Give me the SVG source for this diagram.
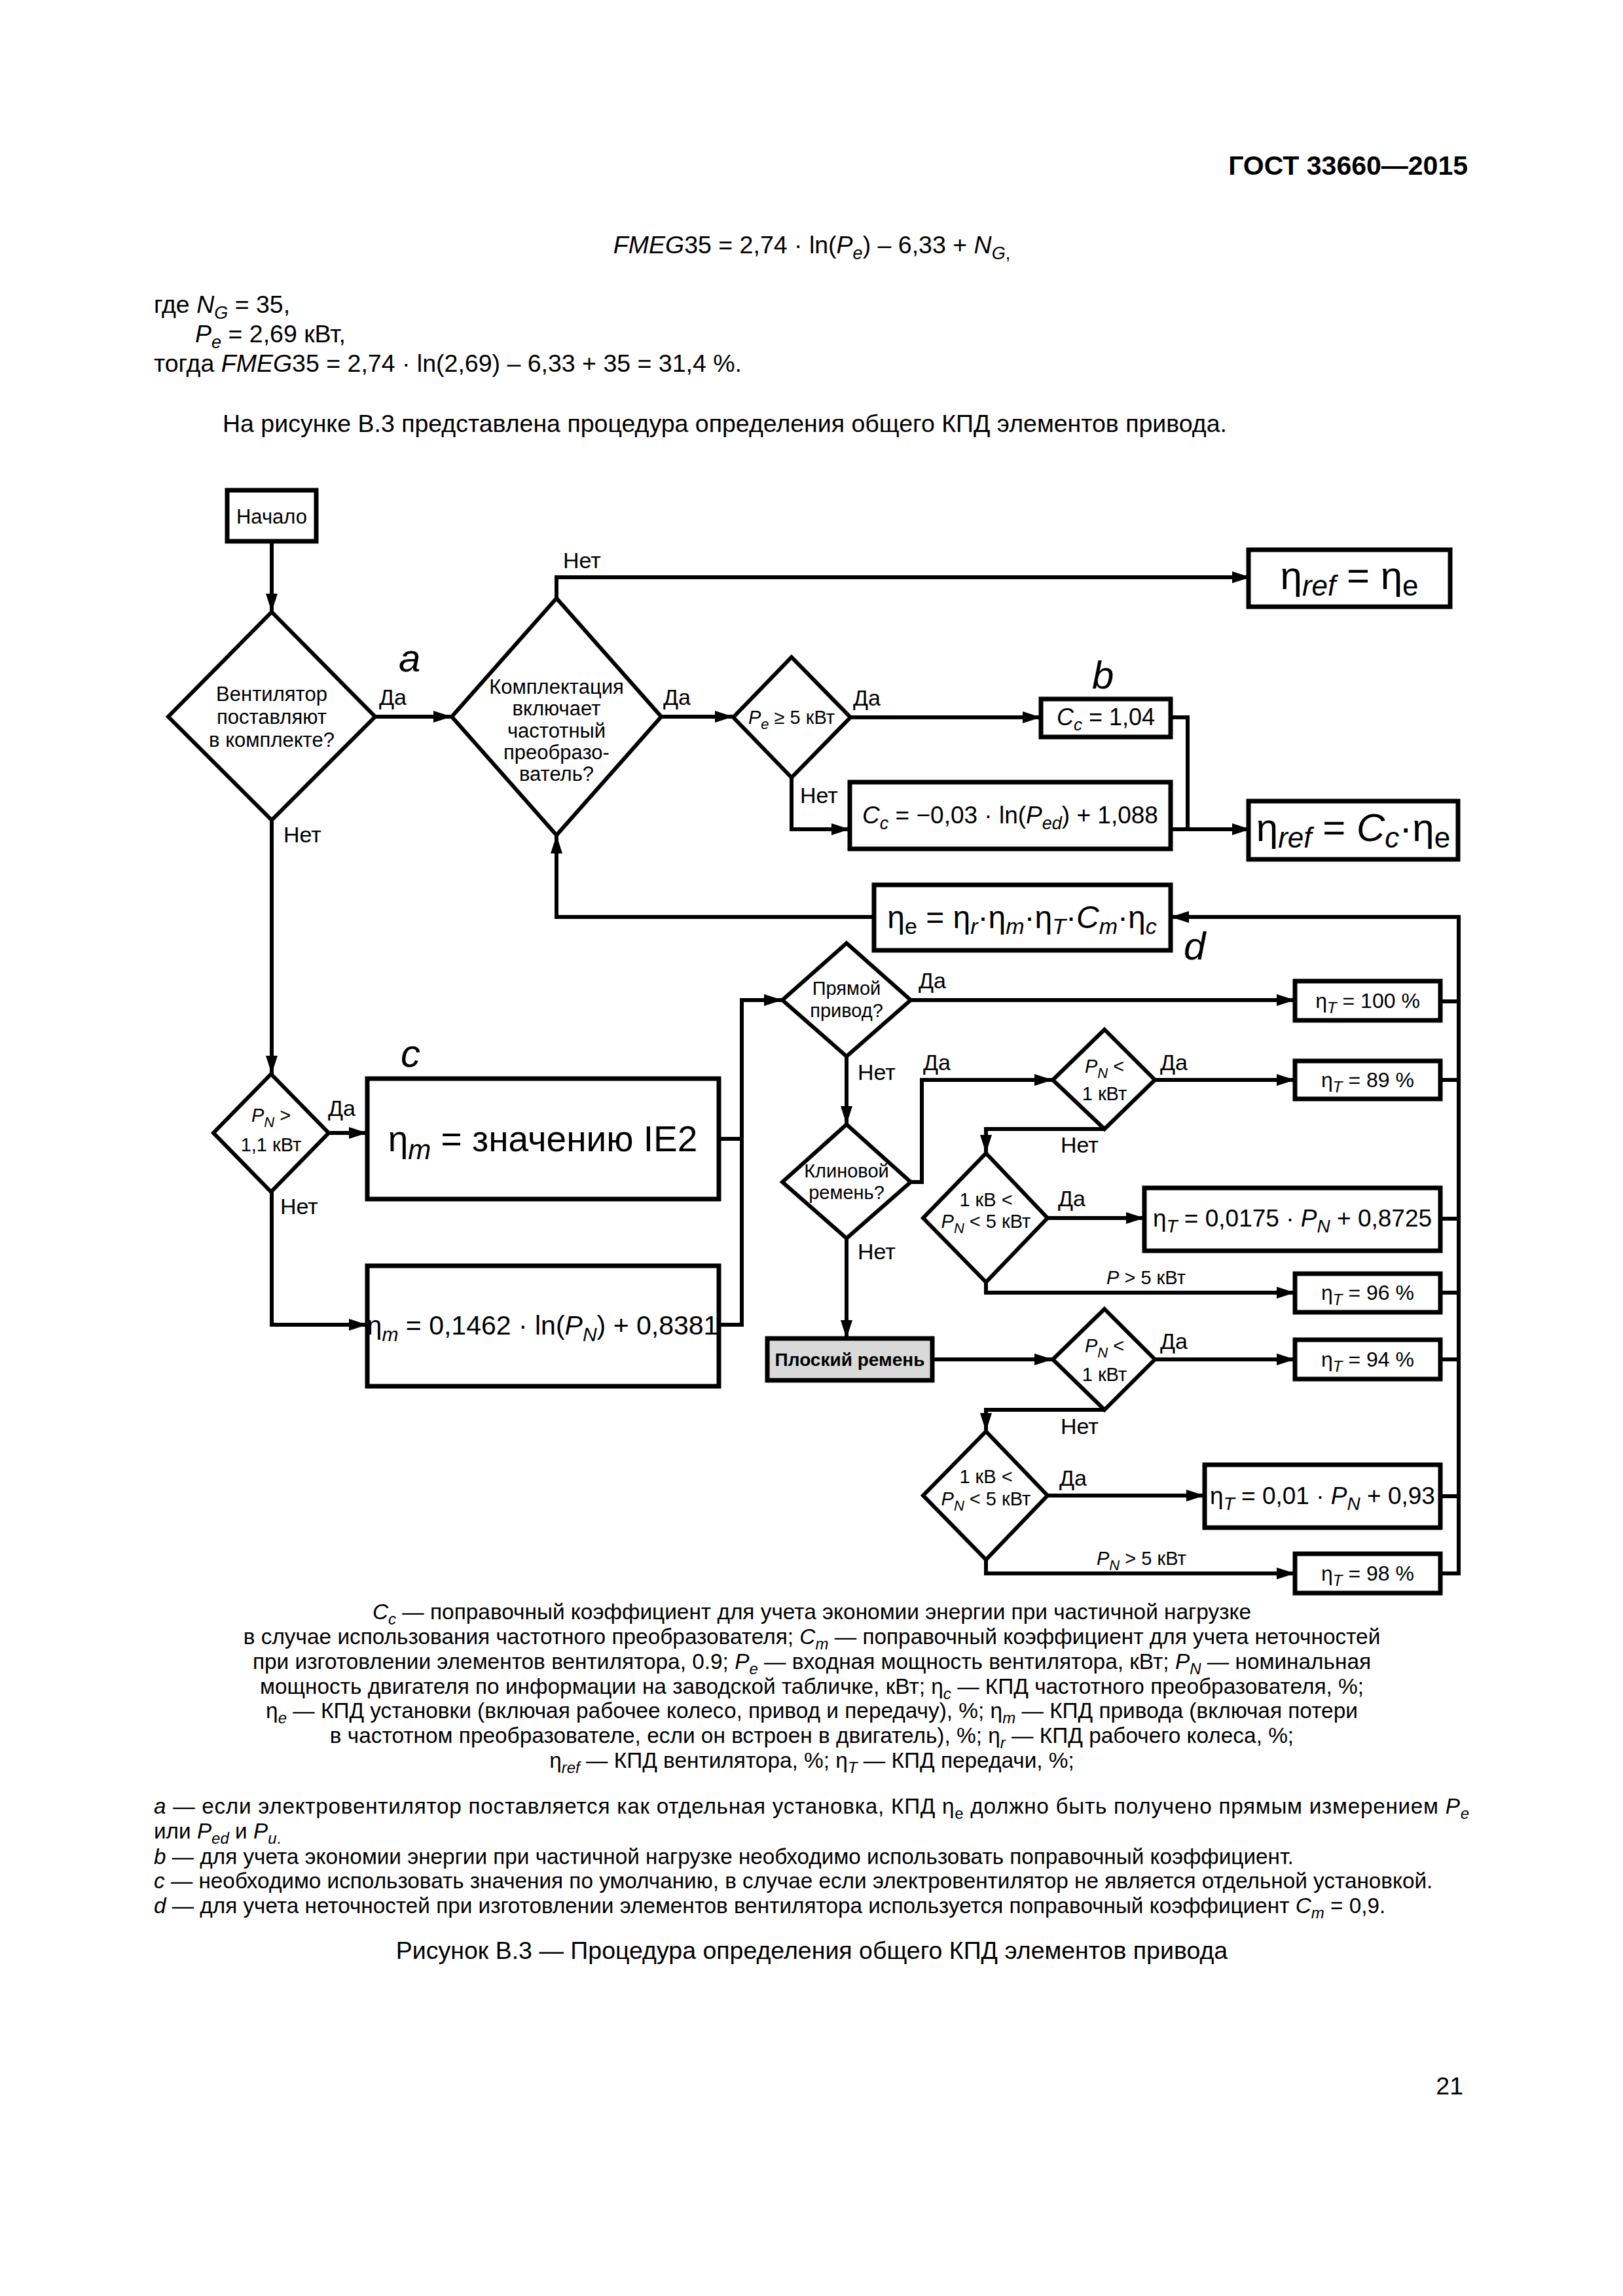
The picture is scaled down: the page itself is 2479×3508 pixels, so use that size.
<svg xmlns="http://www.w3.org/2000/svg" width="2479" height="3508" viewBox="0 0 2479 3508">
<style>
text{font-family:"Liberation Sans",Arial,sans-serif;fill:#000}
.ln{stroke:#000;stroke-width:6;fill:none;stroke-linejoin:miter}
.box{fill:#fff;stroke:#000;stroke-width:7}
.dm{fill:#fff;stroke:#000;stroke-width:6;stroke-linejoin:miter}
.body{font-size:37.5px}
.cap{font-size:33.4px}
.note{font-size:33.3px}
.lbl{font-size:34px}
.dt{font-size:31px}
.ds{font-size:29px}
.i{font-style:italic}
.big{font-size:60px;font-style:italic}
</style>
<defs>
<marker id="ar" markerUnits="userSpaceOnUse" markerWidth="30" markerHeight="20" refX="28" refY="9" orient="auto" viewBox="0 0 30 20">
<path d="M0,0 L28,9 L0,18 Z" fill="#000"/>
</marker>
</defs>
<rect width="2479" height="3508" fill="#fff"/>

<!-- page text -->
<text x="2242" y="267" text-anchor="end" font-weight="bold" font-size="41">ГОСТ 33660—2015</text>
<text class="body" x="1240" y="387" text-anchor="middle"><tspan class="i">FMEG</tspan>35 = 2,74 · ln(<tspan class="i">P</tspan><tspan class="i" font-size="27" dy="9">e</tspan><tspan dy="-9">) – 6,33 + </tspan><tspan class="i">N</tspan><tspan class="i" font-size="27" dy="9">G</tspan><tspan font-size="27">,</tspan></text>
<text class="body" x="235" y="478">где <tspan class="i">N</tspan><tspan class="i" font-size="27" dy="9">G</tspan><tspan dy="-9"> = 35,</tspan></text>
<text class="body" x="298" y="523"><tspan class="i">P</tspan><tspan class="i" font-size="27" dy="9">e</tspan><tspan dy="-9"> = 2,69 кВт,</tspan></text>
<text class="body" x="235" y="568">тогда <tspan class="i">FMEG</tspan>35 = 2,74 · ln(2,69) – 6,33 + 35 = 31,4 %.</text>
<text class="body" x="340" y="660">На рисунке В.3 представлена процедура определения общего КПД элементов привода.</text>

<!-- connectors -->
<g id="connectors">
<path class="ln" d="M415,827 L415,935" marker-end="url(#ar)"/>
<path class="ln" d="M573,1095 L690,1095" marker-end="url(#ar)"/>
<path class="ln" d="M850,914 L850,882 L1910,882" marker-end="url(#ar)"/>
<path class="ln" d="M1010,1095 L1120,1095" marker-end="url(#ar)"/>
<path class="ln" d="M1299,1096 L1590,1096" marker-end="url(#ar)"/>
<path class="ln" d="M1209,1188 L1209,1267 L1298,1267" marker-end="url(#ar)"/>
<path class="ln" d="M1788,1096 L1814,1096 L1814,1267"/>
<path class="ln" d="M1788,1267 L1910,1267" marker-end="url(#ar)"/>
<path class="ln" d="M1335,1401 L850,1401 L850,1276" marker-end="url(#ar)"/>
<path class="ln" d="M2228,1401 L1788,1401" marker-end="url(#ar)"/>
<path class="ln" d="M2228,1398 L2228,2407"/>
<path class="ln" d="M2200,1530 L2228,1530 M2200,1650 L2228,1650 M2200,1862 L2228,1862 M2200,1975 L2228,1975 M2200,2077 L2228,2077 M2200,2286 L2228,2286 M2200,2404 L2231,2404"/>
<path class="ln" d="M415,1253 L415,1641" marker-end="url(#ar)"/>
<path class="ln" d="M502,1731 L561,1731" marker-end="url(#ar)"/>
<path class="ln" d="M415,1821 L415,2024 L561,2024" marker-end="url(#ar)"/>
<path class="ln" d="M1098,1740 L1133,1740 M1098,2024 L1133,2024"/>
<path class="ln" d="M1133,2027 L1133,1528 L1195,1528" marker-end="url(#ar)"/>
<path class="ln" d="M1391,1528 L1978,1528" marker-end="url(#ar)"/>
<path class="ln" d="M1293,1614 L1293,1718" marker-end="url(#ar)"/>
<path class="ln" d="M1391,1806 L1408,1806 L1408,1650 L1608,1650" marker-end="url(#ar)"/>
<path class="ln" d="M1764,1650 L1978,1650" marker-end="url(#ar)"/>
<path class="ln" d="M1687,1725 L1506,1725 L1506,1762" marker-end="url(#ar)"/>
<path class="ln" d="M1600,1861 L1748,1861" marker-end="url(#ar)"/>
<path class="ln" d="M1506,1959 L1506,1975 L1978,1975" marker-end="url(#ar)"/>
<path class="ln" d="M1293,1892 L1293,2045" marker-end="url(#ar)"/>
<path class="ln" d="M1424,2077 L1608,2077" marker-end="url(#ar)"/>
<path class="ln" d="M1764,2077 L1978,2077" marker-end="url(#ar)"/>
<path class="ln" d="M1687,2154 L1506,2154 L1506,2187" marker-end="url(#ar)"/>
<path class="ln" d="M1600,2285 L1840,2285" marker-end="url(#ar)"/>
<path class="ln" d="M1506,2383 L1506,2404 L1978,2404" marker-end="url(#ar)"/>
</g>

<!-- connector labels -->
<g id="labels">
<text class="lbl" x="579" y="1077">Да</text>
<text class="lbl" x="433" y="1287">Нет</text>
<text class="lbl" x="860" y="868">Нет</text>
<text class="lbl" x="1013" y="1077">Да</text>
<text class="lbl" x="1303" y="1078">Да</text>
<text class="lbl" x="1222" y="1227">Нет</text>
<text class="lbl" x="501" y="1705">Да</text>
<text class="lbl" x="428" y="1855">Нет</text>
<text class="lbl" x="1403" y="1510">Да</text>
<text class="lbl" x="1310" y="1650">Нет</text>
<text class="lbl" x="1410" y="1635">Да</text>
<text class="lbl" x="1772" y="1635">Да</text>
<text class="lbl" x="1620" y="1761">Нет</text>
<text class="lbl" x="1616" y="1843">Да</text>
<text class="ds" x="1690" y="1962"><tspan class="i">P</tspan> &gt; 5 кВт</text>
<text class="lbl" x="1310" y="1924">Нет</text>
<text class="lbl" x="1772" y="2061">Да</text>
<text class="lbl" x="1620" y="2191">Нет</text>
<text class="lbl" x="1618" y="2270">Да</text>
<text class="ds" x="1675" y="2391"><tspan class="i">P</tspan><tspan class="i" font-size="22" dy="8">N</tspan><tspan dy="-8"> &gt; 5 кВт</tspan></text>
<text class="big" x="609" y="1026">a</text>
<text class="big" x="1668" y="1052">b</text>
<text class="big" x="612" y="1630">c</text>
<text class="big" x="1808" y="1466">d</text>
</g>

<!-- nodes -->
<g id="n-start">
<rect class="box" x="347" y="749" width="136" height="78"/>
<text class="dt" x="415" y="800" text-anchor="middle">Начало</text>
</g>
<g id="n-d1">
<polygon class="dm" points="415,935 573,1095 415,1253 257,1095"/>
<text class="dt" x="415" y="1071" text-anchor="middle">Вентилятор</text>
<text class="dt" x="415" y="1106" text-anchor="middle">поставляют</text>
<text class="dt" x="415" y="1141" text-anchor="middle">в комплекте?</text>
</g>
<g id="n-d2">
<polygon class="dm" points="850,914 1010,1095 850,1276 690,1095"/>
<text class="dt" x="850" y="1060" text-anchor="middle">Комплектация</text>
<text class="dt" x="850" y="1093" text-anchor="middle">включает</text>
<text class="dt" x="850" y="1127" text-anchor="middle">частотный</text>
<text class="dt" x="850" y="1160" text-anchor="middle">преобразо-</text>
<text class="dt" x="850" y="1193" text-anchor="middle">ватель?</text>
</g>
<g id="n-d3">
<polygon class="dm" points="1209,1004 1299,1096 1209,1188 1120,1096"/>
<text class="ds" x="1209" y="1106" text-anchor="middle"><tspan class="i">P</tspan><tspan class="i" font-size="22" dy="8">e</tspan><tspan dy="-8"> ≥ 5 кВт</tspan></text>
</g>
<g id="n-ref1">
<rect class="box" x="1907" y="840" width="308" height="87"/>
<text x="2061" y="900" text-anchor="middle" font-size="60">η<tspan class="i" font-size="44" dy="10">ref</tspan><tspan dy="-10"> = η</tspan><tspan font-size="44" dy="10">e</tspan></text>
</g>
<g id="n-cc1">
<rect class="box" x="1590" y="1068" width="198" height="58"/>
<text x="1689" y="1108" text-anchor="middle" font-size="36"><tspan class="i">C</tspan><tspan class="i" font-size="26" dy="8">c</tspan><tspan dy="-8"> = 1,04</tspan></text>
</g>
<g id="n-cc2">
<rect class="box" x="1298" y="1195" width="490" height="102"/>
<text x="1543" y="1258" text-anchor="middle" font-size="37"><tspan class="i">C</tspan><tspan class="i" font-size="27" dy="9">c</tspan><tspan dy="-9"> = −0,03 · ln(</tspan><tspan class="i">P</tspan><tspan class="i" font-size="27" dy="9">ed</tspan><tspan dy="-9">) + 1,088</tspan></text>
</g>
<g id="n-ref2">
<rect class="box" x="1907" y="1224" width="320" height="89"/>
<text x="2067" y="1285" text-anchor="middle" font-size="60">η<tspan class="i" font-size="44" dy="10">ref</tspan><tspan dy="-10"> = </tspan><tspan class="i">C</tspan><tspan class="i" font-size="44" dy="10">c</tspan><tspan dy="-10">·η</tspan><tspan font-size="44" dy="10">e</tspan></text>
</g>
<g id="n-etae">
<rect class="box" x="1335" y="1352" width="453" height="100"/>
<text x="1561" y="1418" text-anchor="middle" font-size="48">η<tspan font-size="34" dy="9">e</tspan><tspan dy="-9"> = η</tspan><tspan class="i" font-size="34" dy="9">r</tspan><tspan dy="-9">·η</tspan><tspan class="i" font-size="34" dy="9">m</tspan><tspan dy="-9">·η</tspan><tspan class="i" font-size="34" dy="9">T</tspan><tspan dy="-9">·</tspan><tspan class="i">C</tspan><tspan class="i" font-size="34" dy="9">m</tspan><tspan dy="-9">·η</tspan><tspan class="i" font-size="34" dy="9">c</tspan></text>
</g>
<g id="n-d4">
<polygon class="dm" points="414,1641 502,1731 414,1821 326,1731"/>
<text class="ds" x="414" y="1714" text-anchor="middle"><tspan class="i">P</tspan><tspan class="i" font-size="22" dy="8">N</tspan><tspan dy="-8"> &gt;</tspan></text>
<text class="ds" x="414" y="1759" text-anchor="middle">1,1 кВт</text>
</g>
<g id="n-ie2">
<rect class="box" x="561" y="1648" width="537" height="184"/>
<text x="829" y="1759" text-anchor="middle" font-size="55">η<tspan class="i" font-size="42" dy="12">m</tspan><tspan dy="-12"> = значению IE2</tspan></text>
</g>
<g id="n-etam">
<rect class="box" x="561" y="1934" width="537" height="184"/>
<text x="829" y="2039" text-anchor="middle" font-size="41">η<tspan class="i" font-size="30" dy="10">m</tspan><tspan dy="-10"> = 0,1462 · ln(</tspan><tspan class="i">P</tspan><tspan class="i" font-size="30" dy="10">N</tspan><tspan dy="-10">) + 0,8381</tspan></text>
</g>
<g id="n-d5">
<polygon class="dm" points="1293,1441 1391,1528 1293,1614 1195,1528"/>
<text class="ds" x="1293" y="1520" text-anchor="middle">Прямой</text>
<text class="ds" x="1293" y="1554" text-anchor="middle">привод?</text>
</g>
<g id="n-d6">
<polygon class="dm" points="1293,1718 1391,1806 1293,1892 1195,1806"/>
<text class="ds" x="1293" y="1799" text-anchor="middle">Клиновой</text>
<text class="ds" x="1293" y="1832" text-anchor="middle">ремень?</text>
</g>
<g id="n-t100">
<rect class="box" x="1978" y="1499" width="222" height="60"/>
<text x="2089" y="1540" text-anchor="middle" font-size="32">η<tspan class="i" font-size="24" dy="8">T</tspan><tspan dy="-8"> = 100 %</tspan></text>
</g>
<g id="n-d7">
<polygon class="dm" points="1687,1573 1764,1650 1687,1725 1608,1650"/>
<text class="ds" x="1687" y="1639" text-anchor="middle"><tspan class="i">P</tspan><tspan class="i" font-size="22" dy="8">N</tspan><tspan dy="-8"> &lt;</tspan></text>
<text class="ds" x="1687" y="1681" text-anchor="middle">1 кВт</text>
</g>
<g id="n-t89">
<rect class="box" x="1978" y="1621" width="222" height="58"/>
<text x="2089" y="1661" text-anchor="middle" font-size="32">η<tspan class="i" font-size="24" dy="8">T</tspan><tspan dy="-8"> = 89 %</tspan></text>
</g>
<g id="n-d8">
<polygon class="dm" points="1506,1762 1600,1861 1506,1959 1410,1861"/>
<text class="ds" x="1506" y="1843" text-anchor="middle">1 кВ &lt;</text>
<text class="ds" x="1506" y="1876" text-anchor="middle"><tspan class="i">P</tspan><tspan class="i" font-size="22" dy="8">N</tspan><tspan dy="-8"> &lt; 5 кВт</tspan></text>
</g>
<g id="n-t0175">
<rect class="box" x="1748" y="1815" width="452" height="96"/>
<text x="1974" y="1874" text-anchor="middle" font-size="37">η<tspan class="i" font-size="28" dy="9">T</tspan><tspan dy="-9"> = 0,0175 · </tspan><tspan class="i">P</tspan><tspan class="i" font-size="28" dy="9">N</tspan><tspan dy="-9"> + 0,8725</tspan></text>
</g>
<g id="n-t96">
<rect class="box" x="1978" y="1946" width="222" height="59"/>
<text x="2089" y="1986" text-anchor="middle" font-size="32">η<tspan class="i" font-size="24" dy="8">T</tspan><tspan dy="-8"> = 96 %</tspan></text>
</g>
<g id="n-flat">
<rect x="1172" y="2045" width="252" height="64" fill="#d9d9d9" stroke="#000" stroke-width="7"/>
<text x="1298" y="2087" text-anchor="middle" font-size="28" font-weight="bold">Плоский ремень</text>
</g>
<g id="n-d9">
<polygon class="dm" points="1687,2000 1764,2077 1687,2154 1608,2077"/>
<text class="ds" x="1687" y="2066" text-anchor="middle"><tspan class="i">P</tspan><tspan class="i" font-size="22" dy="8">N</tspan><tspan dy="-8"> &lt;</tspan></text>
<text class="ds" x="1687" y="2110" text-anchor="middle">1 кВт</text>
</g>
<g id="n-t94">
<rect class="box" x="1978" y="2047" width="222" height="60"/>
<text x="2089" y="2088" text-anchor="middle" font-size="32">η<tspan class="i" font-size="24" dy="8">T</tspan><tspan dy="-8"> = 94 %</tspan></text>
</g>
<g id="n-d10">
<polygon class="dm" points="1506,2187 1600,2285 1506,2383 1410,2285"/>
<text class="ds" x="1506" y="2266" text-anchor="middle">1 кВ &lt;</text>
<text class="ds" x="1506" y="2300" text-anchor="middle"><tspan class="i">P</tspan><tspan class="i" font-size="22" dy="8">N</tspan><tspan dy="-8"> &lt; 5 кВт</tspan></text>
</g>
<g id="n-t001">
<rect class="box" x="1840" y="2238" width="360" height="96"/>
<text x="2020" y="2298" text-anchor="middle" font-size="37">η<tspan class="i" font-size="28" dy="9">T</tspan><tspan dy="-9"> = 0,01 · </tspan><tspan class="i">P</tspan><tspan class="i" font-size="28" dy="9">N</tspan><tspan dy="-9"> + 0,93</tspan></text>
</g>
<g id="n-t98">
<rect class="box" x="1978" y="2374" width="222" height="60"/>
<text x="2089" y="2415" text-anchor="middle" font-size="32">η<tspan class="i" font-size="24" dy="8">T</tspan><tspan dy="-8"> = 98 %</tspan></text>
</g>

<!-- legend -->
<g id="legend">
<text class="cap" x="1240" y="2474" text-anchor="middle"><tspan class="i">C</tspan><tspan class="i" font-size="24" dy="8">c</tspan><tspan dy="-8"> — поправочный коэффициент для учета экономии энергии при частичной нагрузке</tspan></text>
<text class="cap" x="1240" y="2512" text-anchor="middle">в случае использования частотного преобразователя; <tspan class="i">C</tspan><tspan class="i" font-size="24" dy="8">m</tspan><tspan dy="-8"> — поправочный коэффициент для учета неточностей</tspan></text>
<text class="cap" x="1240" y="2550" text-anchor="middle">при изготовлении элементов вентилятора, 0.9; <tspan class="i">P</tspan><tspan class="i" font-size="24" dy="8">e</tspan><tspan dy="-8"> — входная мощность вентилятора, кВт; </tspan><tspan class="i">P</tspan><tspan class="i" font-size="24" dy="8">N</tspan><tspan dy="-8"> — номинальная</tspan></text>
<text class="cap" x="1240" y="2588" text-anchor="middle">мощность двигателя по информации на заводской табличке, кВт; η<tspan class="i" font-size="24" dy="8">c</tspan><tspan dy="-8"> — КПД частотного преобразователя, %;</tspan></text>
<text class="cap" x="1240" y="2625" text-anchor="middle">η<tspan class="i" font-size="24" dy="8">e</tspan><tspan dy="-8"> — КПД установки (включая рабочее колесо, привод и передачу), %; η</tspan><tspan class="i" font-size="24" dy="8">m</tspan><tspan dy="-8"> — КПД привода (включая потери</tspan></text>
<text class="cap" x="1240" y="2663" text-anchor="middle">в частотном преобразователе, если он встроен в двигатель), %; η<tspan class="i" font-size="24" dy="8">r</tspan><tspan dy="-8"> — КПД рабочего колеса, %;</tspan></text>
<text class="cap" x="1240" y="2701" text-anchor="middle">η<tspan class="i" font-size="24" dy="8">ref</tspan><tspan dy="-8"> — КПД вентилятора, %; η</tspan><tspan class="i" font-size="24" dy="8">T</tspan><tspan dy="-8"> — КПД передачи, %;</tspan></text>
</g>
<g id="notes">
<text class="note" x="235" y="2771" textLength="2009" lengthAdjust="spacing"><tspan class="i">a</tspan> — если электровентилятор поставляется как отдельная установка, КПД η<tspan font-size="24" dy="8">e</tspan><tspan dy="-8"> должно быть получено прямым измерением </tspan><tspan class="i">P</tspan><tspan class="i" font-size="24" dy="8">e</tspan></text>
<text class="note" x="235" y="2809">или <tspan class="i">P</tspan><tspan class="i" font-size="24" dy="8">ed</tspan><tspan dy="-8"> и </tspan><tspan class="i">P</tspan><tspan class="i" font-size="24" dy="8">u</tspan><tspan font-size="24">.</tspan></text>
<text class="note" x="235" y="2848"><tspan class="i">b</tspan> — для учета экономии энергии при частичной нагрузке необходимо использовать поправочный коэффициент.</text>
<text class="note" x="235" y="2885"><tspan class="i">c</tspan> — необходимо использовать значения по умолчанию, в случае если электровентилятор не является отдельной установкой.</text>
<text class="note" x="235" y="2923"><tspan class="i">d</tspan> — для учета неточностей при изготовлении элементов вентилятора используется поправочный коэффициент <tspan class="i">C</tspan><tspan class="i" font-size="24" dy="8">m</tspan><tspan dy="-8"> = 0,9.</tspan></text>
<text class="body" x="1240" y="2993" text-anchor="middle">Рисунок В.3 — Процедура определения общего КПД элементов привода</text>
<text class="body" x="2235" y="3200" text-anchor="end">21</text>
</g>
</svg>
